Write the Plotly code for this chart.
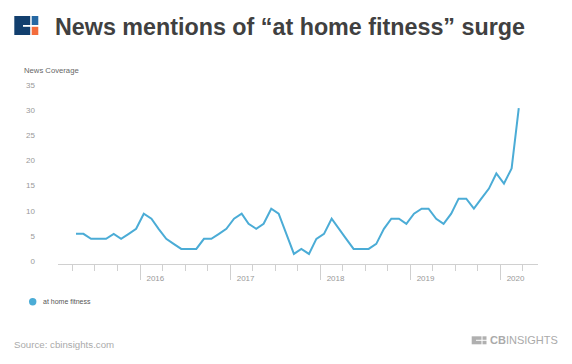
import plotly.graph_objects as go

months = [
    "2015-04-15", "2015-05-15", "2015-06-15", "2015-07-15", "2015-08-15", "2015-09-15",
    "2015-10-15", "2015-11-15", "2015-12-15",
    "2016-01-15", "2016-02-15", "2016-03-15", "2016-04-15", "2016-05-15", "2016-06-15",
    "2016-07-15", "2016-08-15", "2016-09-15", "2016-10-15", "2016-11-15", "2016-12-15",
    "2017-01-15", "2017-02-15", "2017-03-15", "2017-04-15", "2017-05-15", "2017-06-15",
    "2017-07-15", "2017-08-15", "2017-09-15", "2017-10-15", "2017-11-15", "2017-12-15",
    "2018-01-15", "2018-02-15", "2018-03-15", "2018-04-15", "2018-05-15", "2018-06-15",
    "2018-07-15", "2018-08-15", "2018-09-15", "2018-10-15", "2018-11-15", "2018-12-15",
    "2019-01-15", "2019-02-15", "2019-03-15", "2019-04-15", "2019-05-15", "2019-06-15",
    "2019-07-15", "2019-08-15", "2019-09-15", "2019-10-15", "2019-11-15", "2019-12-15",
    "2020-01-15", "2020-02-15", "2020-03-15",
]
coverage = [
    6, 6, 5, 5, 5, 6, 5, 6, 7,
    10, 9, 7, 5, 4, 3, 3, 3, 5, 5, 6, 7,
    9, 10, 8, 7, 8, 11, 10, 6, 2, 3, 2, 5,
    6, 9, 7, 5, 3, 3, 3, 4, 7, 9, 9, 8,
    10, 11, 11, 9, 8, 10, 13, 13, 11, 13, 15, 18,
    16, 19, 31,
]
year_ticks = ["2016-01-01", "2017-01-01", "2018-01-01", "2019-01-01", "2020-01-01"]
year_labels = ["2016", "2017", "2018", "2019", "2020"]
y_ticks = [0, 5, 10, 15, 20, 25, 30, 35]

series_name = "at home fitness"
line_color = "#4bacd6"

fig = go.Figure()
fig.add_trace(go.Scatter(
    x=months, y=coverage, mode="lines", name=series_name,
    line=dict(color=line_color, width=2), showlegend=False,
))

fig.update_layout(
    width=572, height=364,
    margin=dict(l=58, r=34, t=88, b=100),
    paper_bgcolor="white", plot_bgcolor="white",
    font=dict(family="Liberation Sans, Arial, sans-serif"),
    showlegend=False,
)
fig.update_xaxes(
    type="date", range=["2015-02-01", "2020-06-01"],
    showgrid=False, zeroline=False,
    showline=True, linecolor="#d0d0d0", linewidth=1,
    tickmode="array", tickvals=year_ticks, ticktext=year_labels,
    ticks="outside", ticklen=15, tickcolor="#d0d0d0", tickwidth=1,
    ticklabelshift=15, ticklabelstandoff=-9,
    tickfont=dict(size=8, color="#999999"),
    minor=dict(dtick="M3", tick0="2015-01-01", ticks="outside", ticklen=6,
               tickcolor="#d0d0d0", tickwidth=1, showgrid=False),
)
fig.update_yaxes(
    range=[0, 35], showgrid=False, zeroline=False, showline=False,
    tickmode="array", tickvals=y_ticks, ticks="",
    ticklabelstandoff=22, ticklabelshift=-3,
    tickfont=dict(size=8, color="#999999"),
)

# y axis title
fig.add_annotation(text="News Coverage", xref="paper", yref="paper",
                   x=-0.075, y=1.1, xanchor="left", yanchor="middle",
                   showarrow=False, font=dict(size=7.7, color="#666666"))

def px_x(v):
    return (v - 58) / 480

def px_y(v):
    return (264 - v) / 176

# title
fig.add_annotation(text="<b>News mentions of \u201cat home fitness\u201d surge</b>",
                   xref="paper", yref="paper", x=px_x(53), y=px_y(27),
                   xanchor="left", yanchor="middle", showarrow=False,
                   font=dict(size=23.3, color="#404040"))

# logo (top-left)
fig.add_shape(type="rect", xref="paper", yref="paper",
              x0=px_x(14.3), x1=px_x(30.2), y0=px_y(35), y1=px_y(16),
              fillcolor="#123f6e", line=dict(width=0))
fig.add_shape(type="rect", xref="paper", yref="paper",
              x0=px_x(23), x1=px_x(31.7), y0=px_y(26.8), y1=px_y(25),
              fillcolor="white", line=dict(width=0))
fig.add_shape(type="rect", xref="paper", yref="paper",
              x0=px_x(31.7), x1=px_x(38.3), y0=px_y(25), y1=px_y(16),
              fillcolor="#2668a3", line=dict(width=0))
fig.add_shape(type="rect", xref="paper", yref="paper",
              x0=px_x(31.7), x1=px_x(38.3), y0=px_y(35), y1=px_y(26.8),
              fillcolor="#f36c3c", line=dict(width=0))

# legend
fig.add_shape(type="circle", xref="paper", yref="paper",
              x0=px_x(29), x1=px_x(36.4), y0=px_y(305.4), y1=px_y(298),
              fillcolor=line_color, line=dict(width=0))
fig.add_annotation(text=series_name, xref="paper", yref="paper",
                   x=px_x(41), y=px_y(301.7), xanchor="left", yanchor="middle",
                   showarrow=False, font=dict(size=7, color="#555555"))

# source
fig.add_annotation(text="Source: cbinsights.com", xref="paper", yref="paper",
                   x=px_x(12), y=px_y(344.5), xanchor="left", yanchor="middle",
                   showarrow=False, font=dict(size=9.7, color="#aaaaaa"))

# CB Insights logo (bottom-right)
fig.add_shape(type="rect", xref="paper", yref="paper",
              x0=px_x(471.7), x1=px_x(481.5), y0=px_y(344.3), y1=px_y(336.3),
              fillcolor="#b0b0b0", line=dict(width=0))
fig.add_shape(type="rect", xref="paper", yref="paper",
              x0=px_x(476), x1=px_x(482.5), y0=px_y(340.8), y1=px_y(339.8),
              fillcolor="white", line=dict(width=0))
fig.add_shape(type="rect", xref="paper", yref="paper",
              x0=px_x(482.5), x1=px_x(486.5), y0=px_y(339.8), y1=px_y(336.3),
              fillcolor="#b0b0b0", line=dict(width=0))
fig.add_shape(type="rect", xref="paper", yref="paper",
              x0=px_x(482.5), x1=px_x(486.5), y0=px_y(344.3), y1=px_y(340.8),
              fillcolor="#b0b0b0", line=dict(width=0))
fig.add_annotation(text="<b>CB</b>INSIGHTS", xref="paper", yref="paper",
                   x=px_x(488), y=px_y(340.3), xanchor="left", yanchor="middle",
                   showarrow=False, font=dict(size=11, color="#aaaaaa"))

fig.write_html("out.html", post_script="document.body.style.margin='0';",
               config={"displayModeBar": False})
